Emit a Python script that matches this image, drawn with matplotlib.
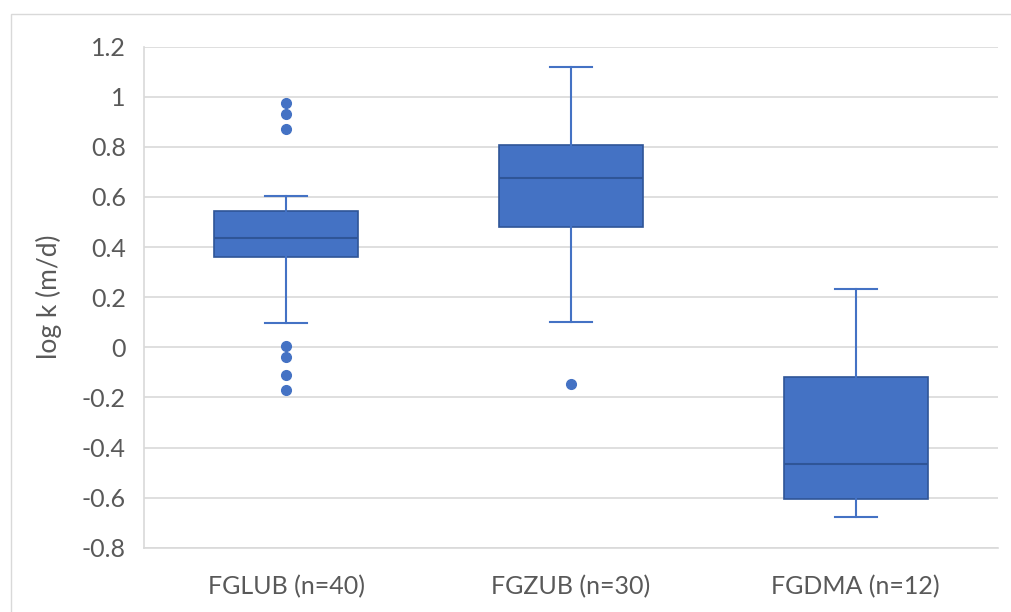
import matplotlib.pyplot as plt
from matplotlib.patches import Rectangle

# box statistics (log k, m/d)
labels = ['FGLUB (n=40)', 'FGZUB (n=30)', 'FGDMA (n=12)']
q1 = [0.360, 0.479, -0.607]
med = [0.437, 0.674, -0.467]
q3 = [0.545, 0.808, -0.120]
whislo = [0.098, 0.100, -0.679]
whishi = [0.604, 1.120, 0.233]
fliers = [
    [0.974, 0.931, 0.871, 0.006, -0.037, -0.111, -0.170],
    [-0.147],
    [],
]
yticks = [-0.8, -0.6, -0.4, -0.2, 0, 0.2, 0.4, 0.6, 0.8, 1, 1.2]
ytick_labels = ['-0.8', '-0.6', '-0.4', '-0.2', '0', '0.2', '0.4', '0.6', '0.8', '1', '1.2']

plt.rcParams['font.family'] = ['Lato', 'DejaVu Sans']

fill = '#4472C4'
edge = '#2F5597'
txt = '#595959'

fig = plt.figure(figsize=(10.11, 6.12), dpi=100)
# chart-area border (cropped on right and bottom)
fig.patches.append(Rectangle((11 / 1011, -0.1), 1.2, 1 - 14 / 612 + 0.1,
                             transform=fig.transFigure, fill=False,
                             edgecolor='#D9D9D9', lw=1))

ax = fig.add_axes([144 / 1011, 1 - 547.7 / 612, (998 - 144) / 1011, (547.7 - 46.7) / 612])

stats = []
for i in range(len(labels)):
    stats.append(dict(q1=q1[i], med=med[i], q3=q3[i], whislo=whislo[i],
                      whishi=whishi[i], fliers=fliers[i], label=labels[i]))

ax.bxp(stats, positions=[1, 2, 3], widths=0.506, patch_artist=True,
       boxprops=dict(facecolor=fill, edgecolor=edge, lw=1.2),
       medianprops=dict(color=edge, lw=1.5),
       whiskerprops=dict(color=fill, lw=1.5),
       capprops=dict(color=fill, lw=1.5),
       capwidths=0.147,
       flierprops=dict(marker='o', markersize=7, markerfacecolor=fill,
                       markeredgecolor=fill))

ax.set_xlim(0.5, 3.5)
ax.set_ylim(-0.8, 1.2)
ax.set_yticks(yticks)
ax.set_yticklabels(ytick_labels)
ax.yaxis.grid(True, color='#D9D9D9', lw=1.2)
ax.set_axisbelow(True)
for s in ['top', 'right']:
    ax.spines[s].set_visible(False)
for s in ['left', 'bottom']:
    ax.spines[s].set_color('#D9D9D9')
    ax.spines[s].set_linewidth(1.2)
ax.tick_params(axis='both', length=0, labelsize=18, colors=txt)
ax.tick_params(axis='y', pad=13)
ax.tick_params(axis='x', pad=20)
ax.set_ylabel('log k (m/d)', fontsize=19, color=txt, labelpad=14)

fig.savefig('out.png', dpi=100)
